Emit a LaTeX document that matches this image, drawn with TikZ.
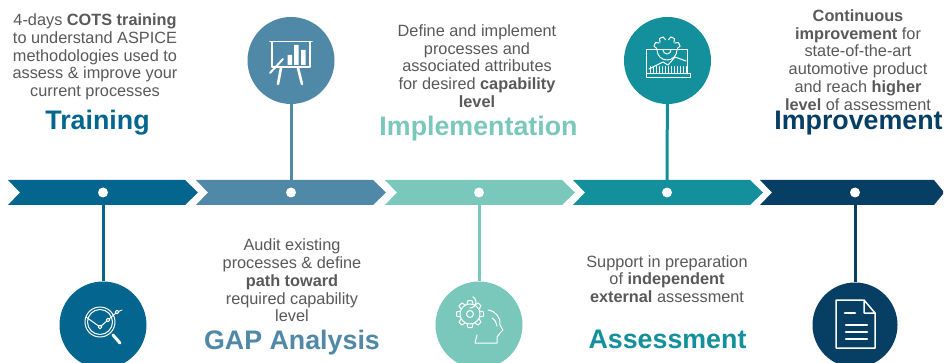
\documentclass[tikz,border=0pt]{standalone}
\usepackage{fontspec}
\setmainfont{Liberation Sans}
\usepackage{tikz}
\usetikzlibrary{positioning}
\definecolor{trainc}{HTML}{04668F}
\definecolor{gapc}{HTML}{5089A8}
\definecolor{implc}{HTML}{7AC8BB}
\definecolor{assec}{HTML}{13909B}
\definecolor{imprc}{HTML}{063F63}
\definecolor{bodyc}{HTML}{595959}
\newcommand{\chev}[2]{\fill[#1,xshift=#2] (0,180)--(177,180)--(190,192.5)--(177,205)--(0,205)--(12,192.5)--cycle;}
\newcommand{\gearring}[4]{\foreach \a in {#4}{\draw[shift={(#1,#2)},rotate=\a,icon] (#3,-3)--(#3+3.5,-2)--(#3+3.5,2)--(#3,3);}}
\tikzset{
  bodytext/.style={text=bodyc, align=center, font=\fontsize{16.3}{17.7}\selectfont},
  title/.style={font=\fontsize{26.8}{28}\selectfont\bfseries},
  dot/.style={circle, fill=white, inner sep=0pt, minimum size=10pt},
  badge/.style={circle, inner sep=0pt, minimum size=87pt},
  link/.style={line width=3pt},
  icon/.style={draw=white, line width=1pt, line cap=round, line join=round},
  iconthick/.style={draw=white, line width=2.6pt, line cap=round}
}
\begin{document}
\begin{tikzpicture}[x=1pt, y=-1pt]
\useasboundingbox (0,0) rectangle (944,363);
\clip (0,0) rectangle (944,363);
\fill[white] (0,0) rectangle (944,363);
% arrow band
\chev{trainc}{8}
\chev{gapc}{196}
\chev{implc}{385}
\chev{assec}{573}
\fill[imprc] (760,180)--(934,180)--(943,191)--(943,194)--(934,205)--(760,205)--(772,192.5)--cycle;
\node[dot] (d1) at (103,192.5) {};
\node[dot] (d2) at (291,192.5) {};
\node[dot] (d3) at (479,192.5) {};
\node[dot] (d4) at (667,192.5) {};
\node[dot] (d5) at (855,192.5) {};
% badges
\node[badge, fill=trainc] (b1) at (103,325) {};
\node[badge, fill=gapc] (b2) at (291,60.5) {};
\node[badge, fill=implc] (b3) at (479,325) {};
\node[badge, fill=assec] (b4) at (667.5,60.5) {};
\node[badge, fill=imprc, minimum size=85pt] (b5) at (855,325) {};
\draw[link, trainc] (d1)--(b1);
\draw[link, gapc] (d2)--(b2);
\draw[link, implc] (d3)--(b3);
\draw[link, assec] (d4)--(b4);
\draw[link, imprc] (d5)--(b5);
% texts
\node[bodytext] (t1) at (95,57) {4-days \textbf{COTS training}\\to understand ASPICE\\methodologies used to\\assess \& improve your\\current processes};
\node[title, text=trainc] (h1) at (97.5,123) {Training};
\node[bodytext] (t2) at (292,280.5) {Audit existing\\processes \& define\\\textbf{path toward}\\required capability\\level};
\node[title, text=gapc] (h2) at (292,343) {GAP Analysis};
\node[bodytext] (t3) at (477,66) {Define and implement\\processes and\\associated attributes\\for desired \textbf{capability}\\\textbf{level}};
\node[title, text=implc] (h3) at (478.5,129) {Implementation};
\node[bodytext] (t4) at (667,279) {Support in preparation\\of \textbf{independent}\\\textbf{external} assessment};
\node[title, text=assec] (h4) at (667.5,339.5) {Assessment};
\node[bodytext] (t5) at (858,60) {\textbf{Continuous}\\\textbf{improvement} for\\state-of-the-art\\automotive product\\and reach \textbf{higher}\\\textbf{level} of assessment};
\node[title, text=imprc] (h5) at (858.5,123) {Improvement};
% icon magnifier
\draw[icon] (100,322) circle (15);
\draw[icon] (100,322) circle (12.5);
\draw[icon] (86,317)--(100,327)--(108,320)--(117,312)--(122,310);
\draw[iconthick, line width=3pt] (113,335)--(120,343);
\draw[icon, fill=trainc] (100,327) circle (1.8);
\draw[icon, fill=trainc] (108,320) circle (1.8);
\draw[icon, fill=trainc] (117,312) circle (1.8);
% icon board
\draw[iconthick, line width=1.8pt] (270,41.5)--(312,41.5);
\draw[icon, line width=1.4pt] (272,42)--(272,67)--(310,67)--(310,42);
\fill[white] (287.5,55) rectangle (292,65) (294,45) rectangle (298.5,65) (301,50) rectangle (305.5,65);
\draw[iconthick, line width=2pt] (270,73)--(283,59);
\draw[iconthick] (281,68)--(278,84);
\draw[iconthick] (298,68)--(302,84);
% icon head and gear
\draw[icon] (470,314) circle (10);
\draw[icon] (470,314) circle (3.5);
\draw[icon] (470,308) arc (90:-60:6);
\gearring{470}{314}{10}{0,45,...,315}
\draw[icon] (488,310) .. controls (496,311) and (501,318) .. (500,325) -- (503,330) -- (500,333) -- (497,337) -- (497,343) -- (475,343) -- (477,335);
\draw[icon] (492,318) .. controls (495,320) and (497,323) .. (497,326);
% icon laptop
\draw[icon] (646,74)--(646,50)--(687,50)--(687,74);
\draw[icon] (646,74) rectangle (690,78);
\draw[icon] (649,69)--(663,62)--(668,65)--(675,57)--(686,61);
\foreach \k in {650,653,...,686}{\draw[icon, line width=.8pt] (\k,72.5)--(\k,66.5);}
\draw[icon] (657,50) arc (180:0:10);
\draw[icon] (663,50) arc (180:0:4);
\gearring{667}{50}{10}{25,65,115,155}
% icon document
\draw[icon, line width=1.5pt] (864,300)--(836,300)--(836,348)--(875,348)--(875,313)--(864,300)--(864,313)--(875,313);
\draw[iconthick] (845,313)--(855,313);
\draw[iconthick] (846,325)--(867,325);
\draw[iconthick] (846,332)--(867,332);
\draw[iconthick] (846,339)--(867,339);
\end{tikzpicture}
\end{document}
